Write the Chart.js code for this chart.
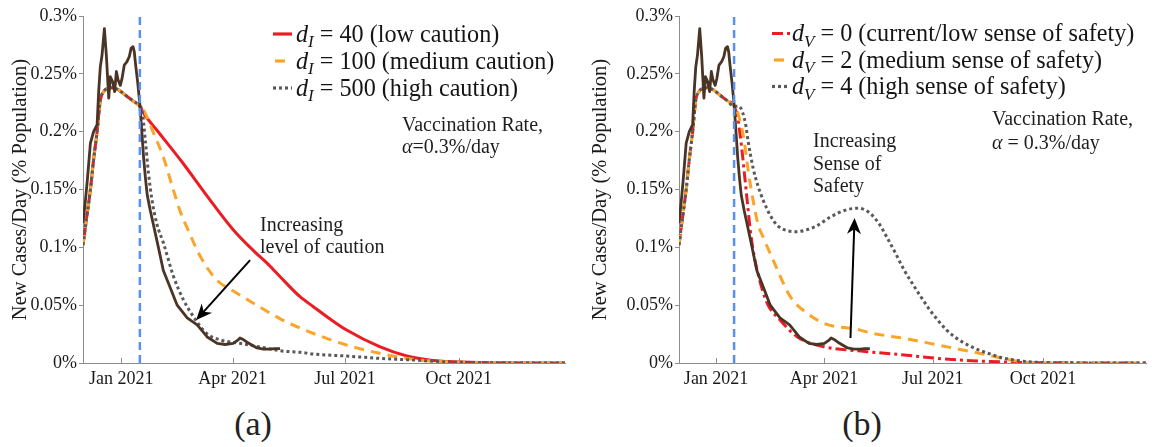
<!DOCTYPE html>
<html>
<head>
<meta charset="utf-8">
<script src="https://cdn.jsdelivr.net/npm/chart.js@4.4.1/dist/chart.umd.min.js"></script>
<style>
  html, body { margin: 0; padding: 0; background: #fff; }
  #wrap { position: relative; width: 1152px; height: 447px; overflow: hidden; background: #fff; }
  #wrap canvas { position: absolute; top: 0; }
  .cap { position: absolute; top: 405px; line-height: 38px; font-family: 'Liberation Serif', 'DejaVu Serif', serif;
         font-size: 34px; color: #222; transform: translateX(-50%); }
</style>
</head>
<body>
<div id="wrap">
  <canvas id="panelA" width="576" height="400" style="left:0;width:576px;height:400px"></canvas>
  <canvas id="panelB" width="576" height="400" style="left:576px;width:576px;height:400px"></canvas>
  <div class="cap" style="left:253px">(a)</div>
  <div class="cap" style="left:862px">(b)</div>
</div>
<script>
// ---- axes: days counted from 1 Dec 2020 ----
const tickDays = [31, 121, 212, 304];
const tickLabels = ['Jan 2021', 'Apr 2021', 'Jul 2021', 'Oct 2021'];
const yTickValues = [0, 0.05, 0.1, 0.15, 0.2, 0.25, 0.3];
const dayMax = 390;
const policyDay = 46;   // start of vaccination (mid January)

// ---- reported new cases per day, % of population (7-day smoothed) ----
const observedDays = [0, 2, 3.5, 6, 8.6, 10.4, 11.4, 12.7, 14, 15.4, 17.3, 18.9, 20.8, 22.1, 24, 25.6, 27, 28.4,
  30.2, 31.6, 33.4, 35.6, 37.5, 38.9, 40.5, 41.5, 42.6, 44.2, 45.8, 47.2, 49, 50.5, 52, 54.4, 56.9, 61, 65,
  70.6, 76.2, 84.3, 92.4, 100.5, 108.6, 115, 121.5, 125, 127, 130, 132.7, 140.8, 146, 151.3, 155, 159.4];
const observedCases = [0.121, 0.141, 0.158, 0.19, 0.2, 0.204, 0.206, 0.235, 0.256, 0.266, 0.289, 0.266, 0.229, 0.2475,
  0.243, 0.2346, 0.252, 0.2447, 0.24, 0.246, 0.2576, 0.2605, 0.265, 0.272, 0.2735, 0.269, 0.2576, 0.243, 0.226, 0.206,
  0.178, 0.16, 0.145, 0.132, 0.12, 0.1, 0.08, 0.065, 0.05, 0.039, 0.033, 0.0225, 0.017, 0.016, 0.017, 0.0195, 0.0216,
  0.02, 0.018, 0.013, 0.012, 0.012, 0.0125, 0.0125];

// ---- model, common part before vaccination starts ----
const sharedDays = [0, 3, 6, 8.5, 11.4, 14, 16.7, 20, 23, 28, 35, 40, 46];
const sharedCases = [0.102, 0.126, 0.15, 0.175, 0.2, 0.227, 0.2346, 0.2375, 0.238, 0.2365, 0.231, 0.227, 0.222];

// ---- (a) level of caution d_I ----
const lowCautionDays = [49, 60, 80, 100, 121.7, 140, 148.7, 159.5, 175.6, 186.4, 200, 213.3, 240, 262, 280, 300, 330, 390];
const lowCautionCases = [0.216, 0.201, 0.174, 0.145, 0.115, 0.095, 0.0865, 0.0746, 0.0573, 0.0487, 0.038, 0.0285,
  0.0141, 0.006, 0.0026, 0.001, 0.0002, 0];
const medCautionDays = [49, 57, 65, 73, 79, 85, 95, 108, 122, 138, 160, 176, 186, 213, 240, 267, 294, 330, 390];
const medCautionCases = [0.2187, 0.199, 0.178, 0.15, 0.13, 0.115, 0.092, 0.072, 0.062, 0.0516, 0.038, 0.03, 0.0257,
  0.0156, 0.0084, 0.0032, 0.0011, 0.0002, 0];
const highCautionDays = [47.7, 50.4, 53, 55.8, 59.8, 65, 73.3, 81.3, 89.4, 100, 111, 127, 149, 160, 176, 186, 213,
  240, 267, 294, 330, 390];
const highCautionCases = [0.2187, 0.193, 0.164, 0.141, 0.12, 0.104, 0.0746, 0.0545, 0.04, 0.0257, 0.02, 0.017, 0.0127,
  0.0105, 0.0092, 0.0078, 0.006, 0.004, 0.0026, 0.001, 0.0002, 0];

// ---- (b) sense of safety d_V ----
const lowSafetyDays = [49, 51, 53, 55, 57, 59.5, 62, 66, 73.5, 84.6, 98.6, 121, 149, 160, 177, 188, 216, 244, 272, 300, 390];
const lowSafetyCases = [0.212, 0.198, 0.18, 0.16, 0.14, 0.115, 0.097, 0.077, 0.052, 0.037, 0.0227, 0.0141, 0.0105,
  0.0095, 0.008, 0.0069, 0.004, 0.002, 0.0009, 0.0003, 0];
const medSafetyDays = [48.3, 52, 54, 58, 62, 66, 70.6, 79, 93, 107, 121, 149, 160, 177, 188, 216, 244, 258, 272, 286, 300, 390];
const medSafetyCases = [0.2187, 0.205, 0.195, 0.165, 0.14, 0.12, 0.108, 0.088, 0.0573, 0.043, 0.0343, 0.029, 0.026,
  0.023, 0.0213, 0.0156, 0.0098, 0.0069, 0.0035, 0.0012, 0.0003, 0];
const highSafetyDays = [50, 53, 55.5, 58, 62, 66, 70.6, 76, 82, 90, 98, 106, 115, 126, 140, 150, 156, 162, 168, 174,
  181, 188, 195, 202, 209, 216, 223, 230, 244, 258, 272, 286, 300, 330, 390];
const highSafetyCases = [0.222, 0.217, 0.207, 0.19, 0.168, 0.153, 0.14, 0.128, 0.119, 0.1145, 0.1135, 0.115, 0.1185,
  0.126, 0.1325, 0.1338, 0.132, 0.127, 0.119, 0.108, 0.0945, 0.0804, 0.0685, 0.0573, 0.0465, 0.0372, 0.029, 0.0227,
  0.0141, 0.0084, 0.004, 0.0017, 0.0006, 0.0001, 0];

// ---- styling ----
const SERIF = "'Liberation Serif', 'DejaVu Serif', serif";
const RED = '#ec1c24', ORANGE = '#fba42a', GREY = '#595959', BROWN = '#4a3426', BLUE = '#5b90ef';
const DASHED = [10, 7], DOTTED = [3, 3], DASHDOT = [11, 4, 3, 4];

function points(days, values) { return days.map((d, i) => ({ x: d, y: values[i] })); }
function modelPoints(days, values) { return points(sharedDays, sharedCases).concat(points(days, values)); }

function modelSet(label, days, values, color, dash, order) {
  return { label, data: modelPoints(days, values), borderColor: color, borderWidth: 3, borderDash: dash,
    borderCapStyle: 'butt', cubicInterpolationMode: 'monotone', pointRadius: 0, fill: false, order };
}
function observedSet() {
  return { label: 'Reported', data: points(observedDays, observedCases), borderColor: BROWN, borderWidth: 2.8,
    tension: 0, pointRadius: 0, fill: false, order: 1, borderJoinStyle: 'round' };
}
function policySet() {
  return { label: 'Vaccination start', data: [{ x: policyDay, y: 0 }, { x: policyDay, y: 0.3 }],
    borderColor: BLUE, borderWidth: 2.5, borderDash: [8, 5], pointRadius: 0, fill: false, order: 0 };
}

// rich text: parts are {t, it, sub}
function drawRich(ctx, x, baseline, size, parts, color) {
  ctx.fillStyle = color;
  ctx.textBaseline = 'alphabetic';
  ctx.textAlign = 'left';
  parts.forEach(p => {
    const s = p.sub ? size * 0.7 : size;
    ctx.font = (p.it ? 'italic ' : '') + s + 'px ' + SERIF;
    ctx.fillText(p.t, x, baseline + (p.sub ? size * 0.22 : 0));
    x += ctx.measureText(p.t).width;
  });
}

function drawArrow(ctx, x0, y0, x1, y1) {
  const ang = Math.atan2(y1 - y0, x1 - x0);
  const len = 16, half = 7;
  ctx.strokeStyle = '#000'; ctx.fillStyle = '#000'; ctx.lineWidth = 2; ctx.setLineDash([]);
  ctx.beginPath();
  ctx.moveTo(x0, y0);
  ctx.lineTo(x1 - Math.cos(ang) * len * 0.6, y1 - Math.sin(ang) * len * 0.6);
  ctx.stroke();
  const bx = x1 - Math.cos(ang) * len, by = y1 - Math.sin(ang) * len;
  const nx = -Math.sin(ang), ny = Math.cos(ang);
  ctx.beginPath();
  ctx.moveTo(x1, y1);
  ctx.lineTo(bx + nx * half, by + ny * half);
  ctx.lineTo(x1 - Math.cos(ang) * len * 0.7, y1 - Math.sin(ang) * len * 0.7);
  ctx.lineTo(bx - nx * half, by - ny * half);
  ctx.closePath();
  ctx.fill();
}

const decor = {
  id: 'decor',
  afterDatasetsDraw(chart, args, o) {
    const ctx = chart.ctx, xs = chart.scales.x, ys = chart.scales.y;
    ctx.save();
    // inward x ticks
    ctx.strokeStyle = '#8c8c8c'; ctx.lineWidth = 1; ctx.setLineDash([]);
    tickDays.forEach(d => {
      const px = Math.round(xs.getPixelForValue(d)) + 0.5;
      ctx.beginPath(); ctx.moveTo(px, ys.bottom); ctx.lineTo(px, ys.bottom - 5); ctx.stroke();
    });
    // legend
    o.legend.forEach((it, i) => {
      const y = o.legendY + i * o.legendStep;
      ctx.strokeStyle = it.color; ctx.lineWidth = 3.2; ctx.lineCap = 'butt';
      ctx.setLineDash(it.dash || []); ctx.lineDashOffset = it.offset || 0;
      ctx.beginPath(); ctx.moveTo(o.legendX0, y); ctx.lineTo(o.legendX1, y); ctx.stroke();
      ctx.setLineDash([]); ctx.lineDashOffset = 0;
      drawRich(ctx, o.legendTextX, y + o.legendSize * 0.32, o.legendSize, it.parts, '#151515');
    });
    // notes
    o.notes.forEach(n => drawRich(ctx, n.x, n.y, n.size, n.parts, '#1e1e1e'));
    // arrow in data coordinates
    const a = o.arrow;
    drawArrow(ctx, xs.getPixelForValue(a.from[0]), ys.getPixelForValue(a.from[1]),
      xs.getPixelForValue(a.to[0]), ys.getPixelForValue(a.to[1]));
    ctx.restore();
  }
};

function makeChart(id, datasets, yAxisWidth, rightPad, titlePad, decorOpts) {
  return new Chart(document.getElementById(id), {
    type: 'line',
    data: { datasets },
    options: {
      responsive: false, animation: false, parsing: true,
      layout: { padding: { top: 16, right: rightPad, left: 0, bottom: 0 } },
      plugins: { legend: { display: false }, tooltip: { enabled: false }, decor: decorOpts },
      scales: {
        x: {
          type: 'linear', min: 0, max: dayMax,
          afterBuildTicks: s => { s.ticks = tickDays.map(v => ({ value: v })); },
          afterFit: s => { s.height = 37; },
          grid: { drawOnChartArea: false, drawTicks: false },
          border: { color: '#8c8c8c', width: 1 },
          ticks: { padding: 5, color: '#1a1a1a', font: { family: SERIF, size: 18 }, maxRotation: 0,
            callback: v => tickLabels[tickDays.indexOf(v)] }
        },
        y: {
          type: 'linear', min: 0, max: 0.3,
          afterBuildTicks: s => { s.ticks = yTickValues.map(v => ({ value: v })); },
          afterFit: s => { s.width = yAxisWidth; },
          grid: { drawOnChartArea: false, drawTicks: true, tickLength: 4, color: '#8c8c8c' },
          border: { color: '#8c8c8c', width: 1 },
          ticks: { padding: 2, color: '#1a1a1a', font: { family: SERIF, size: 18 },
            callback: v => parseFloat(v.toFixed(2)) + '%' },
          title: { display: true, text: 'New Cases/Day (% Population)', color: '#1a1a1a',
            font: { family: SERIF, size: 20.5, lineHeight: 1.2 }, padding: { top: titlePad, bottom: 0 } }
        }
      }
    },
    plugins: [decor]
  });
}

function build() {
  // ---- panel (a) ----
  makeChart('panelA', [
    policySet(),
    observedSet(),
    modelSet('d_I = 500 (high caution)', highCautionDays, highCautionCases, GREY, DOTTED, 2),
    modelSet('d_I = 100 (medium caution)', medCautionDays, medCautionCases, ORANGE, DASHED, 3),
    modelSet('d_I = 40 (low caution)', lowCautionDays, lowCautionCases, RED, [], 4)
  ], 83, 11, 8, {
    legendX0: 273, legendX1: 292, legendTextX: 296, legendY: 34, legendStep: 27, legendSize: 24.2,
    legend: [
      { color: RED, parts: [{ t: 'd', it: true }, { t: 'I', it: true, sub: true }, { t: ' = 40 (low caution)' }] },
      { color: ORANGE, dash: DASHED, offset: 15, parts: [{ t: 'd', it: true }, { t: 'I', it: true, sub: true }, { t: ' = 100 (medium caution)' }] },
      { color: GREY, dash: DOTTED, parts: [{ t: 'd', it: true }, { t: 'I', it: true, sub: true }, { t: ' = 500 (high caution)' }] }
    ],
    notes: [
      { x: 402, y: 131, size: 20, parts: [{ t: 'Vaccination Rate,' }] },
      { x: 402, y: 153, size: 20, parts: [{ t: 'α', it: true }, { t: '=0.3%/day' }] },
      { x: 260, y: 231, size: 20, parts: [{ t: 'Increasing' }] },
      { x: 260, y: 253, size: 20, parts: [{ t: 'level of caution' }] }
    ],
    arrow: { from: [135.2, 0.089], to: [91.6, 0.0372] }
  });

  // ---- panel (b) ----
  makeChart('panelB', [
    policySet(),
    observedSet(),
    modelSet('d_V = 4 (high sense of safety)', highSafetyDays, highSafetyCases, GREY, DOTTED, 2),
    modelSet('d_V = 2 (medium sense of safety)', medSafetyDays, medSafetyCases, ORANGE, DASHED, 3),
    modelSet('d_V = 0 (current/low sense of safety)', lowSafetyDays, lowSafetyCases, RED, DASHDOT, 4)
  ], 103, 6, 12, {
    legendX0: 196, legendX1: 214, legendTextX: 216, legendY: 33.5, legendStep: 26.5, legendSize: 24.2,
    legend: [
      { color: RED, dash: DASHDOT, parts: [{ t: 'd', it: true }, { t: 'V', it: true, sub: true }, { t: ' = 0 (current/low sense of safety)' }] },
      { color: ORANGE, dash: DASHED, offset: 15, parts: [{ t: 'd', it: true }, { t: 'V', it: true, sub: true }, { t: ' = 2 (medium sense of safety)' }] },
      { color: GREY, dash: DOTTED, parts: [{ t: 'd', it: true }, { t: 'V', it: true, sub: true }, { t: ' = 4 (high sense of safety)' }] }
    ],
    notes: [
      { x: 416, y: 125, size: 20, parts: [{ t: 'Vaccination Rate,' }] },
      { x: 416, y: 149, size: 20, parts: [{ t: 'α', it: true }, { t: ' = 0.3%/day' }] },
      { x: 237, y: 147, size: 20, parts: [{ t: 'Increasing' }] },
      { x: 237, y: 169.5, size: 20, parts: [{ t: 'Sense of' }] },
      { x: 237, y: 192, size: 20, parts: [{ t: 'Safety' }] }
    ],
    arrow: { from: [143.2, 0.0216], to: [146.6, 0.1254] }
  });
}

// make sure the serif faces are ready before the canvases draw text
const fontLoads = ['18px "Liberation Serif"', 'italic 18px "Liberation Serif"']
  .map(f => document.fonts.load(f).catch(() => null));
Promise.all(fontLoads).then(build, build);
</script>
</body>
</html>
